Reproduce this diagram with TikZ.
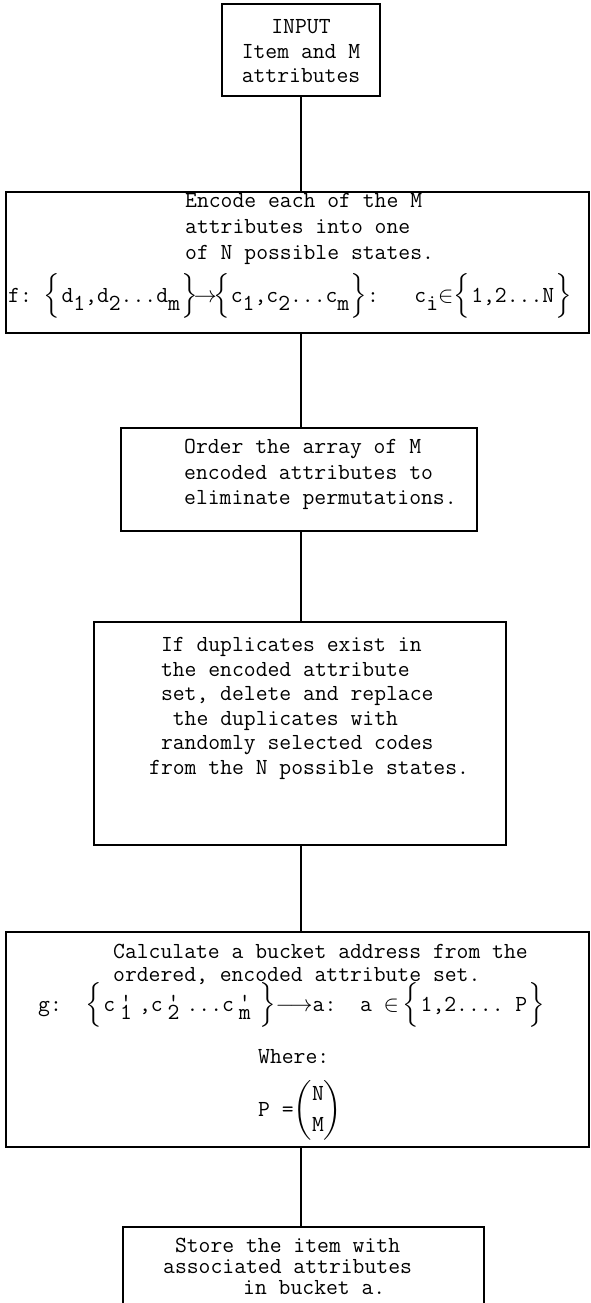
\RequirePackage{fix-cm}
\documentclass[tikz,border=0pt]{standalone}
\usepackage{amsmath}

\newcommand{\lo}[1]{\raisebox{-8pt}{#1}}
\newcommand{\pr}[1]{\hspace{5pt}\rlap{\raisebox{2pt}{\textquotesingle}}\raisebox{-8pt}{#1}\hspace{7pt}}
\newcommand{\lbr}{\smash{$\left\{\vrule height 29pt depth 19pt width 0pt\right.$}}
\newcommand{\rbr}{\smash{$\left.\vrule height 29pt depth 19pt width 0pt\right\}$}}
\newcommand{\glbr}{\smash{$\left\{\vrule height 27pt depth 18pt width 0pt\right.$}}
\newcommand{\grbr}{\smash{$\left.\vrule height 27pt depth 18pt width 0pt\right\}$}}

\begin{document}
\begin{tikzpicture}[x=1pt,y=-1pt]
        \tikzstyle{box}=[draw, line width=1.5pt, inner sep=0pt]
        \tikzstyle{wire}=[line width=1.5pt]
        \tikzstyle{txt}=[inner sep=0pt, align=left, font=\fontsize{23}{25}\selectfont\ttfamily]

        \useasboundingbox (0,0) rectangle (591,1303);

        % the boxes
        \node[box, minimum width=158pt, minimum height=92pt]  (A) at (301,50)      {};
        \node[box, minimum width=583pt, minimum height=141pt] (B) at (297.5,262.5) {};
        \node[box, minimum width=356pt, minimum height=103pt] (C) at (299,479.5)   {};
        \node[box, minimum width=412pt, minimum height=223pt] (D) at (300,733.5)   {};
        \node[box, minimum width=583pt, minimum height=215pt] (E) at (297.5,1039.5) {};
        \node[box, minimum width=361pt, minimum height=93pt]  (F) at (303.5,1273.5) {};

        % the texts
        \node[txt, align=center, anchor=north, font=\fontsize{23}{24.5}\selectfont\ttfamily] (A1) at (301,19.5)
            {INPUT\\Item and M\\attributes};
        \node[txt, anchor=north west, font=\fontsize{23}{26}\selectfont\ttfamily] (B1) at (185,193)
            {Encode each of the M\\attributes into one\\of N possible states.};
        \node[txt, anchor=base west] (B2) at (8,302)
            {f:~\lbr d\lo1,d\lo2...d\lo m\rbr$\!\rightarrow\!$\lbr c\lo1,c\lo2...c\lo m\rbr:~~~c\lo i$\in$\lbr 1,2...N\rbr};
        \node[txt, anchor=north west, font=\fontsize{23}{25.5}\selectfont\ttfamily] (C1) at (184,439)
            {Order the array of M\\encoded attributes to\\eliminate permutations.};
        \node[txt, anchor=north west, font=\fontsize{23}{24.6}\selectfont\ttfamily] (D1) at (149,637)
            {~If duplicates exist in\\~the encoded attribute\\~set, delete and replace\\~~the duplicates with\\~randomly selected codes\\from the N possible states.};
        \node[txt, anchor=north west, font=\fontsize{23}{23}\selectfont\ttfamily] (E1) at (113,944)
            {Calculate a bucket address from the\\ordered, encoded attribute set.};
        \node[txt, anchor=base west] (E2) at (38,1011)
            {g:~~\glbr c\pr1,c\pr2...c\pr m\grbr$\longrightarrow$a:~~a~$\in$\,\glbr 1,2....~P\grbr};
        \node[txt, anchor=base west] (E3) at (258,1063) {Where:};
        \node[txt, anchor=base west] (E4) at (258,1116)
            {P~=$\displaystyle\binom{\mathtt{N}}{\mathtt{M}}$};
        \node[txt, anchor=north west, font=\fontsize{23}{21}\selectfont\ttfamily] (F1) at (163,1238)
            {~Store the item with\\associated attributes\\\hspace*{80pt}in bucket a.};

        % connectors
        \path[wire] (A.south) edge (A.south |- B.north)
                    (B.south -| A.south) edge (C.north -| A.south)
                    (C.south -| A.south) edge (D.north -| A.south)
                    (D.south -| A.south) edge (E.north -| A.south)
                    (E.south -| A.south) edge (F.north -| A.south);
\end{tikzpicture}
\end{document}
